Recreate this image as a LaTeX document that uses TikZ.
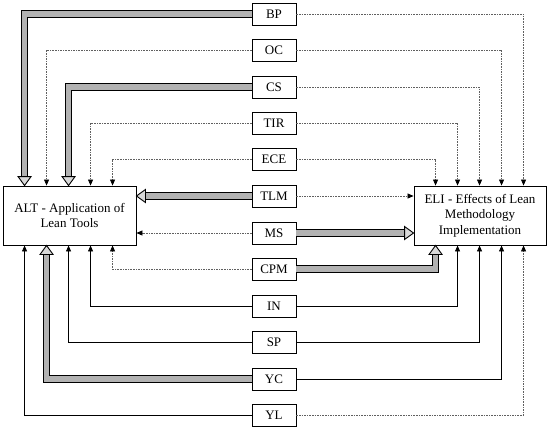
\documentclass[tikz,border=0pt]{standalone}
\usepackage{fontspec}
\setmainfont{Liberation Serif}
\usetikzlibrary{arrows.meta}
\tikzset{
 mid/.style={draw, line width=0.9pt, minimum width=44pt, minimum height=22pt, inner sep=0pt, fill=white, font=\fontsize{13}{15}\selectfont},
 big/.style={draw, line width=0.9pt, minimum width=133pt, minimum height=59pt, inner sep=0pt, align=center, font=\fontsize{13}{15.5}\selectfont},
 sol/.style={line width=0.8pt, -{Triangle[length=6pt,width=5pt]}},
 dot/.style={line width=0.7pt, gray!75!black, dash pattern=on 1.6pt off 1pt, -{Triangle[length=6pt,width=5pt,color=black,fill=black]}},
 fat/.style={draw=black, line width=0.9pt, double=gray!60, double distance=5.5pt, shorten >=8pt},
 fathd/.style={draw=black, line width=0.9pt, fill=gray!30, line join=miter},
}
\newcommand\fathead{}
\renewcommand\fathead[2]{\draw[fathd, shift={#1}, rotate=#2] (0,0) -- (-9pt,6.5pt) -- (-9pt,-6.5pt) -- cycle;}
\begin{document}
\begin{tikzpicture}[x=1pt,y=-1pt]
\useasboundingbox (0,0) rectangle (550,432);
\node[big] (alt) at (69.5,215.5) {ALT - Application of\\Lean Tools};
\node[big, minimum width=132pt] (eli) at (480,215.5) {ELI - Effects of Lean\\Methodology\\Implementation};
\node[mid] (BP) at (274,14) {BP};
\node[mid] (OC) at (274,50) {OC};
\node[mid] (CS) at (274,87) {CS};
\node[mid] (TIR) at (274,123) {TIR};
\node[mid] (ECE) at (274,159) {ECE};
\node[mid] (TLM) at (274,196) {TLM};
\node[mid] (MS) at (274,233) {MS};
\node[mid] (CPM) at (274,269) {CPM};
\node[mid] (IN) at (274,306) {IN};
\node[mid] (SP) at (274,342) {SP};
\node[mid] (YC) at (274,379) {YC};
\node[mid] (YL) at (274,415) {YL};
% BP
\draw[fat] (BP.west) -| ([xshift=22pt]alt.north west);
\fathead{([xshift=22pt]alt.north west)}{-90}
\draw[dot] (BP.east) -| ([xshift=110pt]eli.north west);
% OC
\draw[dot] (OC.west) -| ([xshift=44pt]alt.north west);
\draw[dot] (OC.east) -| ([xshift=88pt]eli.north west);
% CS
\draw[fat] (CS.west) -| ([xshift=66pt]alt.north west);
\fathead{([xshift=66pt]alt.north west)}{-90}
\draw[dot] (CS.east) -| ([xshift=66pt]eli.north west);
% TIR
\draw[dot] (TIR.west) -| ([xshift=88pt]alt.north west);
\draw[dot] (TIR.east) -| ([xshift=44pt]eli.north west);
% ECE
\draw[dot] (ECE.west) -| ([xshift=110pt]alt.north west);
\draw[dot] (ECE.east) -| ([xshift=22pt]eli.north west);
% TLM
\draw[fat] (TLM.west) -- (TLM.west -| alt.east);
\fathead{(TLM.west -| alt.east)}{180}
\draw[dot] (TLM.east) -- (TLM.east -| eli.west);
% MS
\draw[dot] (MS.west) -- (MS.west -| alt.east);
\draw[fat] (MS.east) -- (MS.east -| eli.west);
\fathead{(MS.east -| eli.west)}{0}
% CPM
\draw[dot] (CPM.west) -| ([xshift=110pt]alt.south west);
\draw[fat] (CPM.east) -| ([xshift=22pt]eli.south west);
\fathead{([xshift=22pt]eli.south west)}{90}
% IN
\draw[sol] (IN.west) -| ([xshift=88pt]alt.south west);
\draw[sol] (IN.east) -| ([xshift=44pt]eli.south west);
% SP
\draw[sol] (SP.west) -| ([xshift=66pt]alt.south west);
\draw[sol] (SP.east) -| ([xshift=66pt]eli.south west);
% YC
\draw[fat] (YC.west) -| ([xshift=44pt]alt.south west);
\fathead{([xshift=44pt]alt.south west)}{90}
\draw[sol] (YC.east) -| ([xshift=88pt]eli.south west);
% YL
\draw[sol] (YL.west) -| ([xshift=22pt]alt.south west);
\draw[dot] (YL.east) -| ([xshift=110pt]eli.south west);
\end{tikzpicture}
\end{document}
